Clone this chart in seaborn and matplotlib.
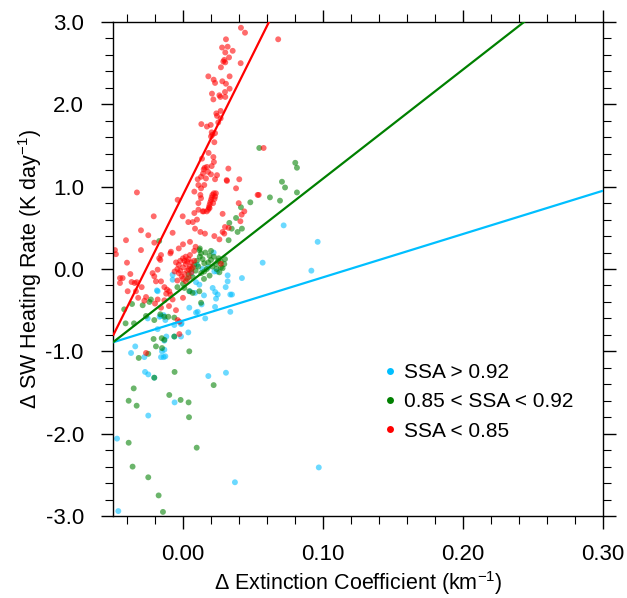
import matplotlib
matplotlib.use("Agg")
import matplotlib.pyplot as plt
import seaborn as sns
import numpy as np
import pandas as pd
from matplotlib.lines import Line2D
from matplotlib.ticker import MultipleLocator, FormatStrFormatter

# ---------------- data ----------------
blue_x = [0.0719, 0.0962, 0.0917, 0.097, 0.0219, 0.0569, 0.0319, 0.0319, 0.0421, 0.0305,
          0.0212, 0.023, 0.0248, 0.0338, 0.035, 0.0236, 0.0229, 0.0338, 0.0159, 0.0224,
          0.0243, -0.0186, -0.0074, -0.0074, -0.0252, -0.0157, -0.0126, -0.0062, -0.0014, -0.0062,
          -0.0014, 0.0038, 0.0045, 0.0093, 0.0050, 0.0086, 0.0093, 0.0117, 0.0150, -0.0341,
          -0.0371, -0.0133, -0.015, -0.0157, -0.0138, -0.0126, -0.0276, -0.0133, -0.0271, -0.0248,
          -0.0205, 0.0181, 0.0307, -0.0060, -0.0248, -0.0471, 0.0371, -0.0462, -0.0181, -0.0119,
          -0.0167, -0.0138, 0.0105, 0.0133, -0.0010, -0.0181, 0.010, 0.014, 0.006, 0.018]
blue_y = [0.53, 0.33, -0.02, -2.41, 0.20, 0.077, -0.077, -0.15, -0.11, -0.22,
          -0.23, -0.28, -0.31, -0.31, -0.31, -0.36, -0.46, -0.52, -0.60, -0.03,
          -0.03, -0.26, -0.13, -0.07, -0.60, -0.57, -0.62, -0.68, -0.67, -0.82,
          -0.82, -0.77, -0.47, -0.53, -0.27, -0.29, -0.16, -0.19, -0.32, -0.94,
          -1.02, -0.98, -1.00, -1.07, -1.07, -1.06, -1.07, -0.87, -1.25, -1.28,
          -1.32, -1.30, -1.26, -1.62, -1.78, -2.06, -2.59, -2.94, -0.73, -0.82,
          -0.58, -0.56, -0.52, -0.43, -0.66, -0.27, 0.05, 0.00, -0.05, 0.02]

green_x = [0.0802, 0.0814, 0.0707, 0.0729, 0.0814, 0.0693, 0.0621, 0.0481, 0.0545, 0.0414,
           0.0379, 0.0348, 0.0421, 0.039, 0.0326, 0.0331, 0.0255, -0.017, 0.0117, 0.0129,
           -0.042, -0.041, -0.035, -0.0364, -0.0229, -0.024, -0.0264, -0.0205, -0.0162, -0.0133,
           -0.0105, -0.0062, -0.0210, -0.0133, -0.0062, 0.0010, 0.0045, 0.0069, 0.0117, 0.0129,
           -0.0248, -0.0316, -0.0193, -0.015, 0.0045, -0.0060, -0.0205, 0.0219, -0.0352, -0.0388,
           -0.0331, -0.0098, -0.0017, 0.0040, 0.0043, -0.0388, 0.0098, -0.0360, -0.0248, -0.0174,
           -0.0143, -0.0288, -0.0152,
           0.0236, 0.0295, 0.0271, 0.0283, 0.0152, 0.020, 0.0152, 0.019, 0.016, 0.012,
           0.010, 0.008, 0.014, 0.018, 0.022, 0.025, 0.021, 0.017, 0.013, 0.009,
           0.006, 0.011, 0.024, 0.027, 0.030, 0.026, 0.019, 0.015, 0.007, 0.003,
           0.0, -0.004, 0.004, 0.020, 0.012]
green_y = [1.29, 1.23, 1.06, 0.99, 0.93, 0.83, 0.87, 0.81, 1.47, 0.75,
           0.62, 0.49, 0.49, 0.45, 0.35, 0.56, 0.13, 0.34, 0.23, 0.19,
           -0.49, -0.66, -0.66, -0.425, -0.37, -0.40, -0.57, -0.62, -0.55, -0.58,
           -0.58, -0.59, -0.85, -0.86, -0.82, -0.23, -0.27, -0.29, -0.27, -0.41,
           -1.03, -1.08, -0.94, -0.96, -1.00, -1.25, -1.32, -1.41, -1.45, -1.60,
           -1.66, -1.53, -1.59, -1.62, -1.80, -2.11, -2.17, -2.40, -2.53, -2.75,
           -2.95, -0.44, -0.84,
           0.06, 0.06, 0.02, 0.01, 0.07, 0.11, -0.03, 0.16, 0.20, 0.15,
           0.10, 0.05, 0.12, 0.08, 0.15, 0.10, 0.03, 0.00, -0.05, -0.02,
           0.00, 0.03, 0.00, 0.09, 0.12, -0.04, -0.08, -0.12, -0.10, -0.12,
           -0.18, -0.22, -0.06, 0.22, 0.25]

red_x = [0.0414, 0.0443, 0.0307, 0.068, 0.0279, 0.0319, 0.0302, 0.0355, 0.0329, 0.0295,
         0.0302, 0.0288, 0.0271, 0.0412, 0.0181, 0.0333, 0.0219, 0.0229, 0.0281, 0.0307,
         0.0333, 0.0207, 0.0260, 0.0267, 0.0300, 0.0302, 0.0217, 0.0269, 0.0238, 0.0243,
         0.0269, 0.0131, 0.0171, 0.0198, 0.0252, 0.0205, 0.0210, 0.0229, 0.0224, 0.0200,
         0.0183, 0.0576, 0.0217, 0.0136, 0.0221, 0.0205, 0.0171, 0.0155, 0.0148, 0.0179,
         0.0324, 0.0143, 0.0200, 0.0243, 0.0129, 0.0164, 0.0105, 0.0229, 0.0314, 0.0402,
         0.0541, 0.0379, 0.0312, 0.0398, 0.0438, 0.0283, 0.0148, 0.041, 0.030, 0.0283,
         0.0157, 0.0224, 0.026, 0.0533, 0.0419, 0.0295, 0.0326,
         0.018, 0.019, 0.020, 0.021, 0.022, 0.0185, 0.0195, 0.0205, 0.023, 0.0215,
         0.0225, 0.017, 0.019, 0.0235,
         -0.0329, -0.0209, -0.0407, -0.030, -0.0248, -0.0205, -0.030, -0.0479, -0.0038, -0.0002,
         0.0038, -0.0074, -0.0157, -0.0086, -0.009, -0.017, 0.0081, 0.011, 0.0129, 0.0152,
         0.0124, 0.0129, 0.011, 0.0081, 0.011, 0.014, 0.010, 0.007, 0.0086, 0.0124,
         -0.040, -0.0431, -0.045, -0.0376, -0.0367, -0.0345, -0.033, -0.0395, -0.0295, -0.032,
         -0.0336, -0.0276, -0.0264, -0.0217, -0.0205, -0.0193, -0.0181, -0.0162, -0.0157, -0.0133,
         -0.0114, -0.0098, -0.009, -0.0181, -0.0133, -0.0074, -0.0157, -0.0038, -0.0026, -0.0026,
         -0.0264,
         -0.004, -0.003, -0.002, 0.0, 0.002, 0.004, 0.006, 0.005, 0.003, 0.001,
         -0.001, -0.003, 0.0, 0.002, 0.004, 0.006, 0.007, -0.005, 0.001, 0.003,
         -0.002, 0.0, 0.005, 0.008, -0.006, 0.002, 0.004, -0.004,
         0.0, 0.005, -0.003, 0.008, 0.009, -0.0486, -0.045, -0.020, -0.010, -0.005,
         -0.012, 0.000, 0.0271]
red_y = [2.93, 2.87, 2.79, 2.79, 2.69, 2.70, 2.63, 2.65, 2.57, 2.54,
         2.51, 2.52, 2.45, 2.50, 2.34, 2.34, 2.30, 2.26, 2.28, 2.25,
         2.19, 2.13, 2.11, 2.09, 2.15, 2.09, 2.06, 1.92, 1.89, 1.86,
         1.83, 1.76, 1.73, 1.75, 1.78, 1.66, 1.63, 1.65, 1.54, 1.61,
         1.41, 1.47, 1.36, 1.34, 1.30, 1.25, 1.24, 1.23, 1.21, 1.18,
         1.22, 1.16, 1.15, 1.14, 1.12, 1.10, 1.09, 1.09, 1.07, 1.09,
         0.90, 0.98, 1.08, 0.80, 0.70, 0.67, 0.70, 0.58, 0.51, 0.45,
         0.43, 0.40, 0.36, 0.90, 0.66, 0.43, 0.50,
         0.72, 0.78, 0.84, 0.90, 0.92, 0.75, 0.81, 0.87, 0.88, 0.80,
         0.85, 0.70, 0.74, 0.92,
         0.93, 0.64, 0.35, 0.47, 0.41, 0.32, 0.23, 0.18, 0.84, 0.64,
         0.57, 0.44, 0.17, 0.21, 0.19, 0.13, 0.94, 1.02, 0.98, 1.02,
         0.90, 0.86, 0.80, 0.68, 0.72, 0.70, 0.60, 0.57, 0.49, 0.45,
         0.077, -0.11, -0.11, -0.061, -0.158, -0.17, -0.16, -0.27, -0.22, -0.35,
         -0.27, -0.385, -0.34, -0.05, -0.089, -0.15, -0.008, 0.11, -0.15, -0.22,
         -0.25, -0.27, -0.31, -0.37, -0.38, -0.37, -0.47, -0.62, -0.64, -0.79,
         -1.02,
         0.00, 0.05, 0.10, 0.13, 0.15, 0.12, 0.08, 0.03, -0.02, -0.06,
         -0.09, -0.05, 0.02, 0.06, 0.00, -0.04, 0.02, 0.08, 0.10, 0.09,
         -0.02, -0.12, 0.17, 0.10, -0.03, -0.15, -0.10, -0.14,
         0.30, 0.33, 0.25, 0.22, 0.27, 0.23, -0.17, -0.42, -0.45, -0.50,
         -0.30, -0.35, 0.064]

groups = ["SSA > 0.92", "0.85 < SSA < 0.92", "SSA < 0.85"]
colors = ["#00BFFF", "#008000", "#FF0000"]
# regression lines (slope, intercept) per group
slopes = [5.26, 13.25, 34.2]
intercepts = [-0.627, -0.2275, 0.90]

x_ticks = [0.00, 0.10, 0.20, 0.30]
y_ticks = [-3.0, -2.0, -1.0, 0.0, 1.0, 2.0, 3.0]

# ---------------- plot ----------------
sns.set_style("ticks")
plt.rcParams['font.family'] = ['Liberation Sans', 'DejaVu Sans']
plt.rcParams['mathtext.fontset'] = 'custom'
plt.rcParams['mathtext.rm'] = 'Liberation Sans'
plt.rcParams['mathtext.it'] = 'Liberation Sans:italic'
plt.rcParams['text.color'] = 'black'
plt.rcParams['axes.labelcolor'] = 'black'
plt.rcParams['xtick.color'] = 'black'
plt.rcParams['ytick.color'] = 'black'

df = pd.concat([
    pd.DataFrame({"x": blue_x, "y": blue_y, "g": groups[0]}),
    pd.DataFrame({"x": green_x, "y": green_y, "g": groups[1]}),
    pd.DataFrame({"x": red_x, "y": red_y, "g": groups[2]}),
], ignore_index=True)

fig = plt.figure(figsize=(6.27, 5.98), dpi=100)
ax = fig.add_axes([0.1802, 0.1371, 0.7815, 0.8261])

sns.scatterplot(data=df, x="x", y="y", hue="g", palette=dict(zip(groups, colors)),
                s=18, alpha=0.58, linewidth=0, legend=False, ax=ax, zorder=2)

xx = np.array([-0.05, 0.30])
for m, b, c in zip(slopes, intercepts, colors):
    ax.plot(xx, m * xx + b, color=c, lw=1.6, zorder=3, solid_capstyle='butt')

ax.set_xlim(-0.05, 0.30)
ax.set_ylim(-3.0, 3.0)
ax.set_xticks(x_ticks)
ax.set_yticks(y_ticks)
ax.xaxis.set_minor_locator(MultipleLocator(0.02))
ax.yaxis.set_minor_locator(MultipleLocator(0.2))
ax.xaxis.set_major_formatter(FormatStrFormatter('%.2f'))
ax.yaxis.set_major_formatter(FormatStrFormatter('%.1f'))
ax.tick_params(axis='both', which='major', direction='out', length=9, width=1.0,
               labelsize=16, top=True, right=True, labelcolor='black', color='black')
ax.tick_params(axis='both', which='minor', direction='out', length=5.5, width=0.8,
               top=True, right=True, color='black')
ax.tick_params(axis='x', which='major', pad=11)
ax.tick_params(axis='y', which='major', pad=12)
for s in ax.spines.values():
    s.set_linewidth(1.0)
    s.set_color('black')

ax.set_xlabel(r"$\Delta$ Extinction Coefficient (km$^{-1}$)", fontsize=15.5, labelpad=3)
ax.set_ylabel(r"$\Delta$ SW Heating Rate (K day$^{-1}$)", fontsize=15.5, labelpad=1)

handles = [Line2D([0], [0], marker='o', linestyle='', markersize=5, markerfacecolor=c,
                  markeredgewidth=0) for c in colors]
ax.legend(handles, groups, loc='upper left', bbox_to_anchor=(0.5485, 0.31), frameon=False,
          fontsize=15, handletextpad=0.27, handlelength=0.8, labelspacing=0.5,
          borderpad=0, borderaxespad=0)

fig.savefig("out.png", dpi=100)
